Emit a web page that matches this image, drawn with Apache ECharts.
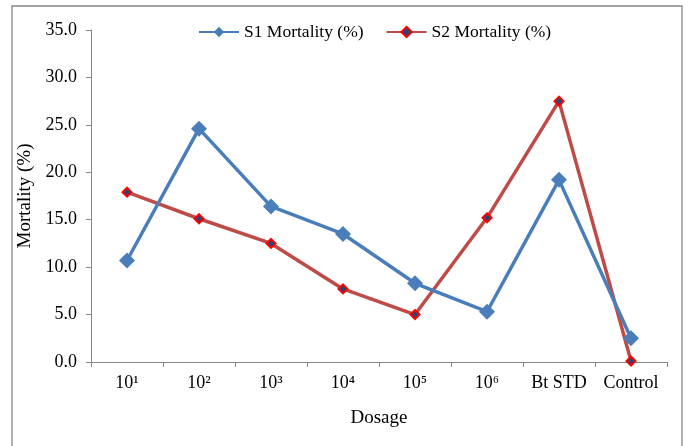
<!DOCTYPE html>
<html>
<head>
<meta charset="utf-8">
<script src="https://cdn.jsdelivr.net/npm/echarts@6/dist/echarts.min.js"></script>
<style>
html,body{margin:0;padding:0;background:#fff;}
#chart{width:690px;height:446px;}
</style>
</head>
<body>
<div id="chart"></div>
<script>
const categories = ['10\u00B9', '10\u00B2', '10\u00B3', '10\u2074', '10\u2075', '10\u2076', 'Bt STD', 'Control'];
const s1Values = [10.7, 24.6, 16.4, 13.5, 8.3, 5.3, 19.2, 2.5];
const s2Values = [17.9, 15.1, 12.5, 7.7, 5.0, 15.2, 27.5, 0.1];
const seriesNames = ['S1 Mortality (%)', 'S2 Mortality (%)'];
const yTicks = { min: 0, max: 35, interval: 5 };

const font = 'Liberation Serif';
const chart = echarts.init(document.getElementById('chart'), null, { renderer: 'canvas' });
chart.setOption({
  animation: false,
  backgroundColor: '#fff',
  graphic: [{
    type: 'rect',
    shape: { x: 12, y: 6, width: 670, height: 450 },
    style: { fill: 'none', stroke: '#868686', lineWidth: 1.3 },
    silent: true
  }],
  legend: {
    top: 18,
    left: 193,
    itemWidth: 40,
    itemHeight: 13,
    itemGap: 22,
    textStyle: { fontFamily: font, fontSize: 17.5, color: '#000' },
    data: seriesNames
  },
  grid: { left: 91, right: 23, top: 30, bottom: 84 },
  xAxis: {
    type: 'category',
    data: categories,
    name: 'Dosage',
    nameLocation: 'middle',
    nameGap: 47,
    nameTextStyle: { fontFamily: font, fontSize: 19, color: '#000' },
    axisLine: { lineStyle: { color: '#868686', width: 1 } },
    axisTick: { show: true, length: 5, interval: 0, lineStyle: { color: '#868686' } },
    axisLabel: { fontFamily: font, fontSize: 18, color: '#000', margin: 12, interval: 0, hideOverlap: false }
  },
  yAxis: {
    type: 'value',
    min: yTicks.min,
    max: yTicks.max,
    interval: yTicks.interval,
    name: 'Mortality (%)',
    nameLocation: 'middle',
    nameGap: 53,
    nameTextStyle: { fontFamily: font, fontSize: 19, color: '#000' },
    splitLine: { show: false },
    axisLine: { show: true, lineStyle: { color: '#868686', width: 1 } },
    axisTick: { show: true, length: 5, lineStyle: { color: '#868686' } },
    axisLabel: { fontFamily: font, fontSize: 18, color: '#000', margin: 14,
      formatter: v => v.toFixed(1) }
  },
  series: [
    {
      name: seriesNames[0],
      type: 'line',
      data: s1Values,
      symbol: 'diamond',
      symbolSize: 16,
      itemStyle: { color: '#4A7EBB' },
      lineStyle: { color: '#4A7EBB', width: 3.5 },
      z: 3
    },
    {
      name: seriesNames[1],
      type: 'line',
      data: s2Values,
      symbol: 'diamond',
      symbolSize: 9,
      itemStyle: { color: '#1F497D', borderColor: '#FF0000', borderWidth: 2 },
      lineStyle: { color: '#BE4B48', width: 3.5 },
      z: 2
    }
  ]
});
</script>
</body>
</html>
